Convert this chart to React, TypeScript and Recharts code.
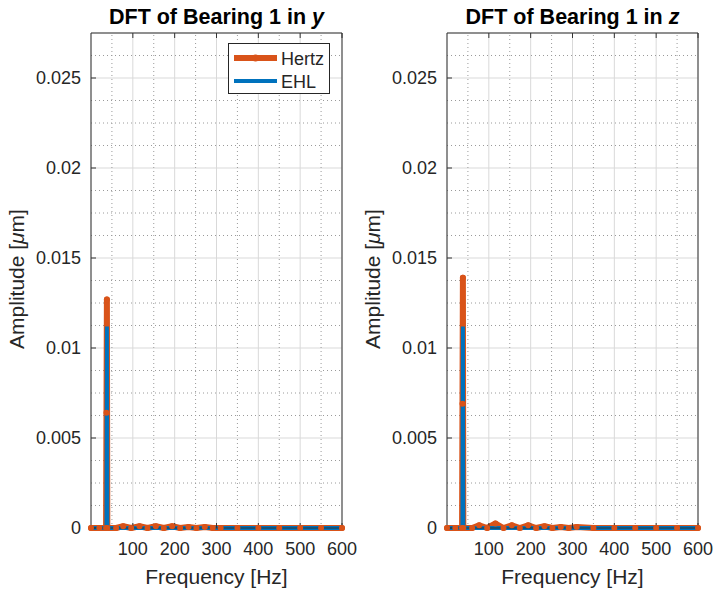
import React from 'react';
import { LineChart, Line, XAxis, YAxis, CartesianGrid, ReferenceLine, Legend } from 'recharts';

// ---------- data ----------
const freqs = [0, 20, 36, 37, 38, 39, 60, 77, 96, 116, 135, 155, 174, 194, 213, 233, 252, 272, 291, 310, 350, 400, 450, 500, 550, 600];
const hertzY = [0, 0, 0, 0.0064, 0.0127, 0, 0, 0.0001, 0, 0.0001, 0, 0.0001, 0, 0.0001, 0, 0.00005, 0, 0.00005, 0, 0, 0, 0, 0, 0, 0, 0];
const ehlY = [0, 0, 0, 0, 0.0112, 0, 0, 0, 0, 0, 0, 0, 0, 0, 0, 0, 0, 0, 0, 0, 0, 0, 0, 0, 0, 0];
const hertzZ = [0, 0, 0, 0.0069, 0.0139, 0, 0, 0.00015, 0, 0.00025, 0, 0.00015, 0, 0.00015, 0, 0.0001, 0, 0.00005, 0, 0.00005, 0, 0, 0, 0, 0, 0];
const ehlZ = [0, 0, 0, 0, 0.0112, 0, 0, 0, 0, 0, 0, 0, 0, 0, 0, 0, 0, 0, 0, 0, 0, 0, 0, 0, 0, 0];

const xTicks = [100, 200, 300, 400, 500, 600];
const xMinor = [50, 150, 250, 350, 450, 550];
const yTicks = [0, 0.005, 0.01, 0.015, 0.02, 0.025];
const yMinor = [0.00125, 0.0025, 0.00375, 0.00625, 0.0075, 0.00875, 0.01125, 0.0125, 0.01375, 0.01625, 0.0175, 0.01875, 0.02125, 0.0225, 0.02375, 0.02625];
const xDomain = [0, 600];
const yDomain = [0, 0.0275];

const seriesNames = ['Hertz', 'EHL'];
const titles = ['DFT of Bearing 1 in ', 'DFT of Bearing 1 in '];
const titleVars = ['y', 'z'];
const xLabel = 'Frequency [Hz]';

const ORANGE = '#D95319';
const BLUE = '#0072BD';
const AXIS = '#333333';
const TEXT = '#262626';
const FONT = '"Liberation Sans", Arial, Helvetica, sans-serif';

const buildRows = (h: number[], e: number[]) => freqs.map((f, i) => ({ f, h: h[i], e: e[i] }));
const rowsY = buildRows(hertzY, ehlY);
const rowsZ = buildRows(hertzZ, ehlZ);

const fmtY = (v: number) => String(+Number(v).toFixed(4));
const empty = () => '';

const LegendBox = () => (
  <svg width={102} height={51} style={{ display: 'block' }}>
    <rect x={0.5} y={0.5} width={101} height={50} fill="#fff" stroke={TEXT} strokeWidth={1} />
    <line x1={6} y1={15} x2={49} y2={15} stroke={ORANGE} strokeWidth={6} />
    <circle cx={27.5} cy={15} r={3.5} fill={ORANGE} />
    <text x={53} y={21.5} fontSize={18} fill={TEXT} fontFamily={FONT}>{seriesNames[0]}</text>
    <line x1={6} y1={38} x2={49} y2={38} stroke={BLUE} strokeWidth={4} />
    <text x={53} y={44.5} fontSize={18} fill={TEXT} fontFamily={FONT}>{seriesNames[1]}</text>
  </svg>
);

type PanelProps = { rows: any[]; width: number; yAxisWidth: number; rightMargin: number; legend: boolean };

const Panel = ({ rows, width, yAxisWidth, rightMargin, legend }: PanelProps) => (
  <LineChart width={width} height={597} data={rows} margin={{ top: 32, right: rightMargin - 1, bottom: 0, left: 0 }}>
    <CartesianGrid stroke="#d9d9d9" strokeWidth={1} />
    {xMinor.map((v) => (
      <ReferenceLine key={'xm' + v} x={v} stroke="#9a9a9a" strokeWidth={1} strokeDasharray="1 3" />
    ))}
    {yMinor.map((v) => (
      <ReferenceLine key={'ym' + v} y={v} stroke="#9a9a9a" strokeWidth={1} strokeDasharray="1 3" />
    ))}
    <XAxis
      dataKey="f"
      type="number"
      domain={xDomain}
      ticks={xTicks}
      height={69}
      stroke={AXIS}
      tickSize={-5}
      tickMargin={19}
      tick={{ fontSize: 18, fill: TEXT, fontFamily: FONT }}
      allowDecimals
    />
    <XAxis
      xAxisId="top"
      orientation="top"
      dataKey="f"
      type="number"
      domain={xDomain}
      ticks={xTicks}
      height={1}
      stroke={AXIS}
      tickSize={-5}
      tickFormatter={empty}
    />
    <YAxis
      type="number"
      domain={yDomain}
      ticks={yTicks}
      width={yAxisWidth}
      stroke={AXIS}
      tickSize={-5}
      tickMargin={15}
      tickFormatter={fmtY}
      tick={{ fontSize: 18, fill: TEXT, fontFamily: FONT }}
    />
    <YAxis
      yAxisId="right"
      orientation="right"
      type="number"
      domain={yDomain}
      ticks={yTicks}
      width={1}
      stroke={AXIS}
      tickSize={-5}
      tickFormatter={empty}
    />
    <Line
      dataKey="h"
      name={seriesNames[0]}
      type="linear"
      stroke={ORANGE}
      strokeWidth={6}
      strokeLinecap="round"
      strokeLinejoin="round"
      dot={{ r: 3, fill: ORANGE, stroke: ORANGE, strokeWidth: 0 }}
      isAnimationActive={false}
    />
    <Line
      dataKey="e"
      name={seriesNames[1]}
      type="linear"
      stroke={BLUE}
      strokeWidth={4}
      strokeLinecap="butt"
      strokeLinejoin="miter"
      dot={false}
      isAnimationActive={false}
    />
    {legend && (
      <Legend
        layout="horizontal"
        align="center"
        verticalAlign="middle"
        content={() => <LegendBox />}
        wrapperStyle={{ left: 228, top: 43, width: 102, height: 51 }}
      />
    )}
  </LineChart>
);

const Labels = () => {
  const centers = [216.5, 572.5];
  const yLabelX = [23.5, 379.5];
  return (
    <svg width={717} height={597} style={{ position: 'absolute', left: 0, top: 0, pointerEvents: 'none' }}>
      {centers.map((cx, i) => (
        <g key={i}>
          <text x={cx} y={23.5} textAnchor="middle" fontSize={21.5} fontWeight="bold" fill="#000" fontFamily={FONT}>
            {titles[i]}
            <tspan fontStyle="italic">{titleVars[i]}</tspan>
          </text>
          <text x={cx} y={584} textAnchor="middle" fontSize={21} fill={TEXT} fontFamily={FONT}>
            {xLabel}
          </text>
          <text
            x={yLabelX[i]}
            y={279}
            transform={`rotate(-90 ${yLabelX[i]} 279)`}
            textAnchor="middle"
            fontSize={21}
            fill={TEXT}
            fontFamily={FONT}
          >
            {'Amplitude ['}
            <tspan fontStyle="italic">μ</tspan>
            {'m]'}
          </text>
        </g>
      ))}
    </svg>
  );
};

export default function App() {
  return (
    <div style={{ position: 'absolute', left: 0, top: 0, width: 717, height: 597, background: '#fff', fontFamily: FONT }}>
      <div style={{ position: 'absolute', left: 0, top: 0 }}>
        <Panel rows={rowsY} width={358} yAxisWidth={91} rightMargin={16} legend />
      </div>
      <div style={{ position: 'absolute', left: 358, top: 0 }}>
        <Panel rows={rowsZ} width={359} yAxisWidth={89} rightMargin={19} legend={false} />
      </div>
      <Labels />
    </div>
  );
}
